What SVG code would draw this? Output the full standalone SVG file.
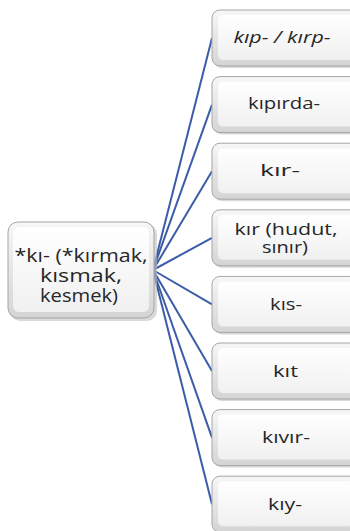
<svg xmlns="http://www.w3.org/2000/svg" width="350" height="531" viewBox="0 0 350 531">
<defs>
<linearGradient id="outer" x1="0" y1="0" x2="0" y2="1">
<stop offset="0" stop-color="#f7f7f7"/>
<stop offset="1" stop-color="#d4d4d4"/>
</linearGradient>
<linearGradient id="inner" x1="0" y1="0" x2="0" y2="1">
<stop offset="0" stop-color="#ffffff"/>
<stop offset="1" stop-color="#f0f0f0"/>
</linearGradient>
</defs>
<style>
.sh{fill:#c0c0c0;opacity:0.6}
.o{fill:url(#outer);stroke:#a5a5a5;stroke-width:1}
.i{fill:url(#inner);stroke:none}
.t{font-family:"Open Sans","DejaVu Sans",sans-serif;font-size:17px;fill:#262626;text-anchor:middle}
.l{font-size:19px}
.c{stroke:#3b5ca8;stroke-width:2;fill:none}
</style>
<g id="connectors">
<line class="c" x1="153" y1="270" x2="212" y2="38"/>
<line class="c" x1="153" y1="270" x2="212" y2="104.6"/>
<line class="c" x1="153" y1="270" x2="212" y2="171.2"/>
<line class="c" x1="153" y1="270" x2="212" y2="237.8"/>
<line class="c" x1="153" y1="270" x2="212" y2="304.4"/>
<line class="c" x1="153" y1="270" x2="212" y2="371"/>
<line class="c" x1="153" y1="270" x2="212" y2="437.6"/>
<line class="c" x1="153" y1="270" x2="212" y2="504.2"/>
</g>
<g id="root">
<rect class="sh" x="10" y="224" width="147" height="97" rx="10"/>
<rect class="o" x="8" y="222" width="146" height="96" rx="10"/>
<rect class="i" x="13" y="227" width="136" height="85" rx="6"/>
<text class="t l"><tspan x="81" y="262" textLength="133" lengthAdjust="spacingAndGlyphs">*kı- (*kırmak,</tspan><tspan x="81" y="282" textLength="82" lengthAdjust="spacingAndGlyphs">kısmak,</tspan><tspan x="79" y="302" textLength="78" lengthAdjust="spacingAndGlyphs">kesmek)</tspan></text>
</g>
<g id="n1">
<rect class="sh" x="214" y="12" width="148" height="56" rx="8"/>
<rect class="o" x="212" y="10" width="148" height="56" rx="8"/>
<rect class="i" x="218" y="15" width="136" height="45" rx="5"/>
<text class="t" x="282" y="43" font-style="italic" textLength="97" lengthAdjust="spacingAndGlyphs">kıp- / kırp-</text>
</g>
<g id="n2">
<rect class="sh" x="214" y="78.6" width="148" height="56" rx="8"/>
<rect class="o" x="212" y="76.6" width="148" height="56" rx="8"/>
<rect class="i" x="218" y="81.6" width="136" height="45" rx="5"/>
<text class="t" x="284" y="109" textLength="72" lengthAdjust="spacingAndGlyphs">kıpırda-</text>
</g>
<g id="n3">
<rect class="sh" x="214" y="145.2" width="148" height="56" rx="8"/>
<rect class="o" x="212" y="143.2" width="148" height="56" rx="8"/>
<rect class="i" x="218" y="148.2" width="136" height="45" rx="5"/>
<text class="t" x="280" y="176" textLength="40" lengthAdjust="spacingAndGlyphs">kır-</text>
</g>
<g id="n4">
<rect class="sh" x="214" y="211.8" width="148" height="56" rx="8"/>
<rect class="o" x="212" y="209.8" width="148" height="56" rx="8"/>
<rect class="i" x="218" y="214.8" width="136" height="45" rx="5"/>
<text class="t"><tspan x="286" y="235" textLength="103" lengthAdjust="spacingAndGlyphs">kır (hudut,</tspan><tspan x="285" y="253" textLength="46" lengthAdjust="spacingAndGlyphs">sınır)</tspan></text>
</g>
<g id="n5">
<rect class="sh" x="214" y="278.4" width="148" height="56" rx="8"/>
<rect class="o" x="212" y="276.4" width="148" height="56" rx="8"/>
<rect class="i" x="218" y="281.4" width="136" height="45" rx="5"/>
<text class="t" x="286" y="309.5" textLength="32" lengthAdjust="spacingAndGlyphs">kıs-</text>
</g>
<g id="n6">
<rect class="sh" x="214" y="345" width="148" height="56" rx="8"/>
<rect class="o" x="212" y="343" width="148" height="56" rx="8"/>
<rect class="i" x="218" y="348" width="136" height="45" rx="5"/>
<text class="t" x="285.5" y="376.5" textLength="25" lengthAdjust="spacingAndGlyphs">kıt</text>
</g>
<g id="n7">
<rect class="sh" x="214" y="411.6" width="148" height="56" rx="8"/>
<rect class="o" x="212" y="409.6" width="148" height="56" rx="8"/>
<rect class="i" x="218" y="414.6" width="136" height="45" rx="5"/>
<text class="t" x="286" y="443" textLength="48" lengthAdjust="spacingAndGlyphs">kıvır-</text>
</g>
<g id="n8">
<rect class="sh" x="214" y="478.2" width="148" height="56" rx="8"/>
<rect class="o" x="212" y="476.2" width="148" height="56" rx="8"/>
<rect class="i" x="218" y="481.2" width="136" height="45" rx="5"/>
<text class="t" x="285" y="509.5" textLength="34" lengthAdjust="spacingAndGlyphs">kıy-</text>
</g>
</svg>
